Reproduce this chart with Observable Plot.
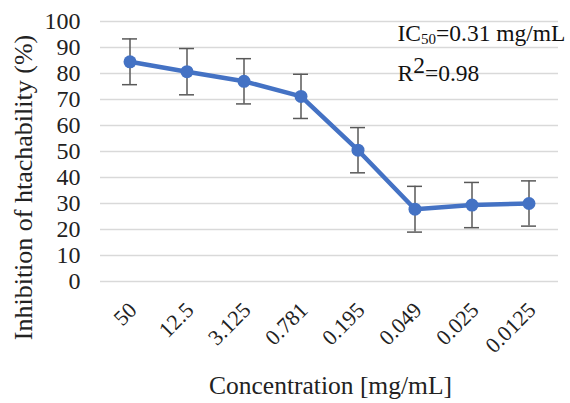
<!DOCTYPE html>
<html><head><meta charset="utf-8">
<script src="https://cdn.jsdelivr.net/npm/d3@7"></script>
<script src="https://cdn.jsdelivr.net/npm/@observablehq/plot@0.6"></script>
<style>body{margin:0;background:#fff}
#chart svg, #chart svg text, #chart svg tspan { font-family: "Liberation Serif", "Times New Roman", serif !important; }
</style>
</head><body><div id="chart"></div>
<script>
const concentrations = ["50","12.5","3.125","0.781","0.195","0.049","0.025","0.0125"];
const inhibition = [84.5, 80.7, 77.0, 71.2, 50.5, 27.8, 29.4, 30.0];
const errors = [8.8, 8.9, 8.7, 8.5, 8.7, 8.8, 8.7, 8.7];
const yTicks = [0,10,20,30,40,50,60,70,80,90,100];
const annotations = ["IC50=0.31 mg/mL", "R2=0.98"];

const data = concentrations.map((c,i)=>({c, v:inhibition[i], lo:inhibition[i]-errors[i], hi:inhibition[i]+errors[i]}));

const plot = Plot.plot({
  width: 570, height: 403,
  marginTop: 21, marginBottom: 122, marginLeft: 100, marginRight: 12,
  style: {fontSize: "20px", color: "#222", background: "#fff"},
  x: {domain: concentrations, padding: 0, label: null},
  y: {domain: [0,100], label: null},
  marks: [
    Plot.ruleY(yTicks, {stroke: "#d9d9d9", strokeWidth: 1.5}),
    Plot.axisY({ticks: yTicks, tickSize: 0, tickPadding: 20, fontSize: 24, fill: "#222", label: null}),
    Plot.axisX({tickSize: 0, tickRotate: -45, tickPadding: 25, dx: 3, fontSize: 22, fill: "#222", label: null}),
    Plot.ruleX(data, {x: "c", y1: "lo", y2: "hi", stroke: "#595959", strokeWidth: 1.5}),
    Plot.tickY(data, {x: "c", y: "lo", stroke: "#595959", strokeWidth: 1.5, inset: 21}),
    Plot.tickY(data, {x: "c", y: "hi", stroke: "#595959", strokeWidth: 1.5, inset: 21}),
    Plot.line(data, {x: "c", y: "v", stroke: "#4472C4", strokeWidth: 4.5}),
    Plot.dot(data, {x: "c", y: "v", r: 6.5, fill: "#4472C4", stroke: "none"}),
    Plot.text(["Concentration [mg/mL]"], {frameAnchor: "bottom", lineAnchor: "middle", dy: 104, dx: 1, fontSize: 25.5, fill: "#222"}),
    Plot.text(["Inhibition of htachability (%)"], {frameAnchor: "left", textAnchor: "middle", lineAnchor: "middle", dx: -77, dy: 36, rotate: -90, fontSize: 26, fill: "#222"}),
    Plot.text([annotations[0]], {frameAnchor: "top-left", dx: 297, dy: 12, textAnchor: "start", lineAnchor: "middle", fontSize: 23.5, fill: "#111", className: "ann-ic"}),
    Plot.text([annotations[1]], {frameAnchor: "top-left", dx: 297, dy: 52, textAnchor: "start", lineAnchor: "middle", fontSize: 23.5, fill: "#111", className: "ann-r"})
  ]
});
document.getElementById("chart").appendChild(plot);

const ic = d3.select(plot).select(".ann-ic text");
if (!ic.empty()) {
  ic.text(null);
  ic.append("tspan").text("IC");
  ic.append("tspan").attr("font-size", 15).attr("dy", 3).text("50");
  ic.append("tspan").attr("dy", -3).text("=0.31 mg/mL");
}
const r = d3.select(plot).select(".ann-r text");
if (!r.empty()) {
  r.text(null);
  r.append("tspan").text("R");
  r.append("tspan").attr("dy", -8).text("2");
  r.append("tspan").attr("dy", 8).text("=0.98");
}
</script></body></html>
